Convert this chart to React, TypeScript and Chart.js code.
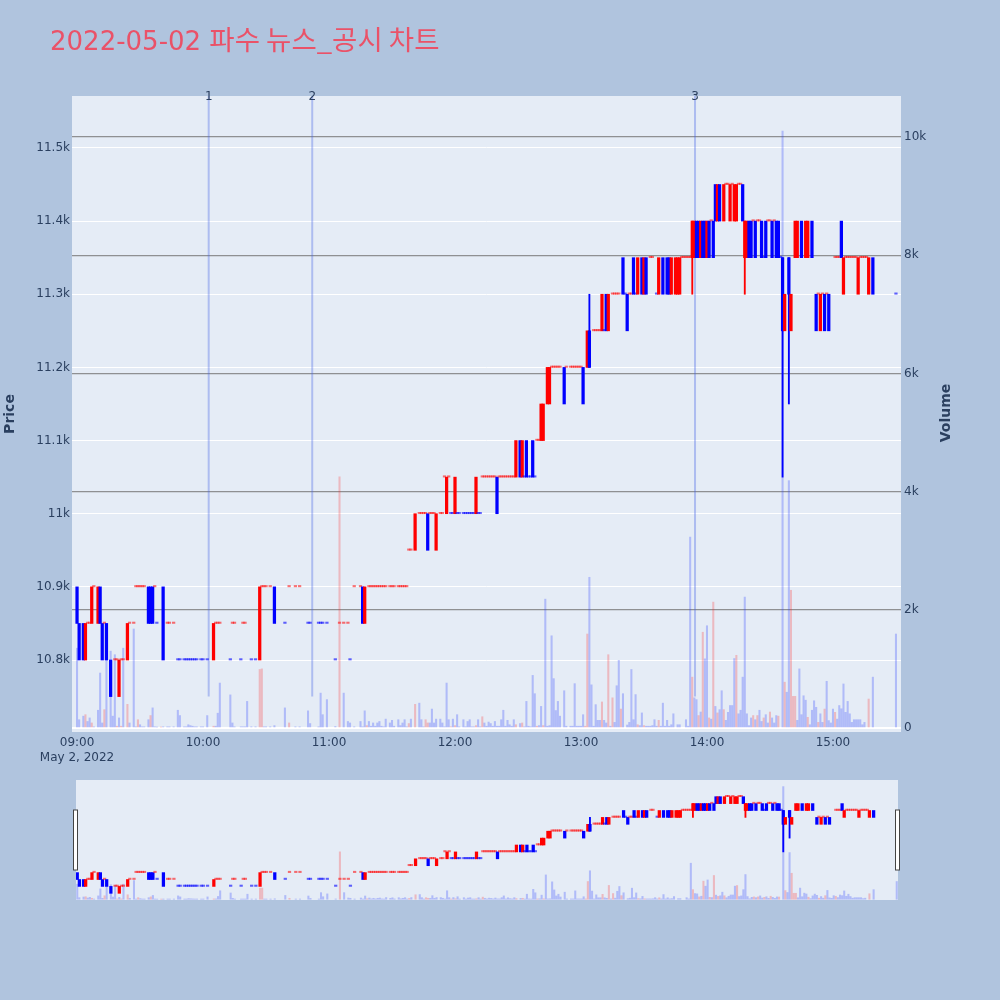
import React, { useEffect, useRef } from "react";
import { Chart, registerables } from "chart.js";

Chart.register(...registerables);

const titleDate = "2022-05-02";
const titleText = "파수 뉴스_공시 차트";
const dateLabel = "May 2, 2022";
const hourTicks = [0, 60, 120, 180, 240, 300, 360];
const hourLabels = ["09:00", "10:00", "11:00", "12:00", "13:00", "14:00", "15:00"];
const priceTicks = [10800, 10900, 11000, 11100, 11200, 11300, 11400, 11500];
const volumeTicks = [0, 2000, 4000, 6000, 8000, 10000];

// news markers (minutes after 09:00)
const newsMinutes = [62.7, 112, 294.3];
const newsLabels = ["1", "2", "3"];
const newsLineFloor = 10750;

// minutes where price moved inside the minute
const moveMinute = [
  0, 1, 3, 4, 7, 10, 11, 12, 14, 16,
  20, 24, 34, 35, 36, 41, 65, 87, 94, 136,
  137, 161, 167, 171, 176, 180, 190, 200, 209, 211,
  212, 214, 217, 221, 222, 224, 225, 232, 241, 243,
  244, 250, 252, 253, 260, 262, 265, 267, 269, 270,
  271, 277, 279, 281, 282, 283, 285, 286, 287, 293,
  294, 295, 296, 297, 298, 299, 300, 301, 303, 304,
  305, 306, 308, 311, 313, 314, 317, 318, 319, 320,
  321, 323, 326, 328, 331, 333, 334, 336, 337, 339,
  340, 342, 343, 345, 347, 348, 350, 352, 354, 356,
  358, 364, 365, 372, 377, 379,
];
const moveOpen = [
  10900, 10850, 10850, 10800, 10850, 10850, 10900, 10850, 10850, 10800,
  10750, 10800, 10900, 10900, 10900, 10900, 10800, 10800, 10900, 10900,
  10850, 10950, 11000, 10950, 11000, 11000, 11000, 11050, 11050, 11100,
  11050, 11100, 11100, 11100, 11100, 11150, 11150, 11200, 11200, 11200,
  11250, 11250, 11300, 11250, 11350, 11300, 11350, 11300, 11350, 11300,
  11350, 11300, 11350, 11350, 11350, 11300, 11300, 11300, 11300, 11350,
  11350, 11400, 11400, 11350, 11400, 11400, 11350, 11400, 11400, 11450,
  11400, 11450, 11400, 11400, 11400, 11400, 11450, 11350, 11350, 11400,
  11400, 11400, 11400, 11400, 11400, 11400, 11400, 11350, 11250, 11350,
  11250, 11350, 11350, 11400, 11350, 11350, 11400, 11300, 11250, 11300,
  11300, 11400, 11300, 11300, 11300, 11350,
];
const moveClose = [
  10850, 10800, 10800, 10850, 10900, 10900, 10850, 10800, 10800, 10750,
  10800, 10850, 10850, 10850, 10850, 10800, 10850, 10900, 10850, 10850,
  10900, 11000, 10950, 11000, 11050, 11050, 11050, 11000, 11100, 11050,
  11100, 11050, 11050, 11150, 11150, 11200, 11200, 11150, 11150, 11250,
  11200, 11300, 11250, 11300, 11300, 11250, 11300, 11350, 11300, 11350,
  11300, 11350, 11300, 11300, 11300, 11350, 11350, 11350, 11350, 11400,
  11400, 11350, 11350, 11400, 11350, 11350, 11400, 11350, 11350, 11400,
  11450, 11400, 11450, 11450, 11450, 11450, 11400, 11400, 11400, 11350,
  11350, 11350, 11350, 11350, 11350, 11350, 11350, 11250, 11300, 11300,
  11300, 11400, 11400, 11350, 11400, 11400, 11350, 11250, 11300, 11250,
  11250, 11350, 11350, 11350, 11350, 11300,
];

// minutes that traded at a single price
const flatPrices = [10800, 10850, 10900, 10950, 11000, 11050, 11100, 11200, 11250, 11300, 11350, 11400, 11450];
const flatMinutes = [
  [18, 19, 21, 22, 48, 49, 51, 52, 53, 54, 55, 56, 57, 59, 60, 62, 73, 78, 83, 85, 123, 130],
  [5, 6, 13, 25, 27, 38, 43, 44, 46, 66, 67, 68, 74, 75, 79, 80, 99, 110, 111, 115, 116, 117, 119, 125, 127, 129],
  [8, 28, 29, 30, 31, 32, 37, 88, 89, 90, 92, 101, 104, 106, 132, 135, 139, 140, 141, 142, 143, 144, 145, 146, 147, 149, 150, 151, 153, 154, 155, 156, 157],
  [158, 159],
  [163, 164, 165, 166, 168, 169, 170, 173, 174, 178, 179, 181, 182, 184, 185, 186, 187, 188, 189, 191, 192],
  [175, 177, 193, 194, 195, 196, 197, 198, 199, 201, 202, 203, 204, 205, 206, 207, 208, 213, 215, 216, 218],
  [219, 220],
  [226, 227, 228, 229, 230, 233, 235, 236, 237, 238, 239, 240],
  [246, 247, 248, 249, 251],
  [255, 256, 257, 258, 261, 263, 264, 266, 276, 353, 355, 357, 390],
  [273, 274, 288, 289, 290, 291, 292, 327, 335, 361, 362, 363, 366, 367, 368, 369, 370, 371, 373, 374, 375, 376],
  [302, 322, 324, 325, 329, 330, 332],
  [309, 310, 312, 315, 316],
];

// wicks beyond the body
const wickMinute = [244, 293, 318, 336, 339];
const wickHigh = [11300, 11400, 11400, 11350, 11350];
const wickLow = [11200, 11300, 11300, 11050, 11150];

// volume per minute, 09:00 .. 15:30
const minuteVolume = [
  1350, 140, 0, 200, 225, 110, 170, 85, 20, 0,
  300, 930, 85, 310, 1240, 0, 1300, 200, 1240, 30,
  170, 30, 1350, 0, 400, 85, 0, 1675, 20, 140,
  55, 20, 20, 0, 140, 210, 340, 20, 15, 0,
  15, 20, 0, 20, 20, 0, 20, 0, 300, 210,
  0, 20, 20, 55, 40, 30, 20, 20, 0, 20,
  20, 0, 210, 0, 0, 30, 30, 250, 760, 0,
  0, 0, 0, 560, 85, 20, 0, 0, 20, 20,
  20, 450, 0, 20, 0, 20, 0, 990, 1000, 20,
  20, 0, 20, 0, 40, 0, 0, 0, 0, 340,
  0, 85, 0, 0, 20, 0, 20, 0, 0, 0,
  290, 75, 0, 0, 0, 20, 590, 225, 0, 480,
  0, 0, 0, 25, 0, 4250, 0, 590, 0, 110,
  85, 0, 20, 0, 0, 110, 20, 290, 40, 110,
  30, 85, 30, 85, 110, 30, 20, 150, 0, 85,
  130, 30, 0, 140, 40, 85, 140, 20, 75, 150,
  0, 400, 0, 420, 140, 20, 140, 85, 85, 320,
  85, 150, 0, 150, 85, 20, 760, 140, 20, 150,
  40, 225, 20, 0, 140, 20, 110, 140, 20, 20,
  40, 140, 20, 190, 85, 30, 100, 75, 30, 110,
  30, 30, 140, 300, 30, 130, 55, 30, 140, 55,
  0, 75, 85, 20, 450, 30, 20, 890, 580, 30,
  40, 365, 40, 2180, 30, 40, 1560, 835, 295, 450,
  200, 0, 630, 30, 0, 30, 30, 750, 30, 30,
  30, 225, 30, 1590, 2550, 730, 30, 395, 130, 130,
  440, 130, 85, 1240, 30, 510, 95, 715, 1145, 320,
  580, 0, 50, 95, 990, 140, 565, 55, 40, 255,
  40, 30, 30, 30, 40, 140, 30, 130, 30, 420,
  30, 130, 30, 55, 240, 0, 55, 55, 0, 0,
  140, 30, 3230, 860, 510, 480, 210, 270, 1620, 1170,
  1730, 170, 150, 2130, 365, 255, 310, 630, 310, 130,
  265, 380, 380, 1175, 1230, 240, 300, 860, 2215, 240,
  40, 170, 210, 140, 210, 300, 110, 170, 225, 85,
  270, 170, 85, 210, 200, 0, 10100, 775, 605, 4185,
  2330, 535, 535, 130, 1000, 225, 545, 470, 180, 55,
  300, 460, 350, 95, 240, 95, 320, 790, 125, 85,
  320, 265, 150, 380, 325, 745, 265, 450, 240, 95,
  140, 140, 140, 140, 55, 95, 0, 490, 0, 860,
  0, 0, 0, 0, 0, 0, 0, 0, 0, 0,
  1590,
];

// minutes whose volume bar is red (rising)
const volumeUpMinutes = [
  4, 7, 13, 19, 21, 24, 29, 35, 40, 65, 87, 88, 101, 125, 138, 158, 161, 166, 167,
  178, 180, 190, 193, 209, 212, 219, 222, 242, 243, 250, 253, 255, 259, 267, 270,
  277, 293, 296, 298, 301, 303, 305, 308, 314, 322, 324, 327, 330, 334, 337, 340,
  341, 342, 348, 353, 356, 361, 377,
];

const UP = "#ff0000";
const DOWN = "#0000ff";
const FLAT_UP = "rgba(255,0,0,0.55)";
const FLAT_DOWN = "rgba(0,0,255,0.6)";
const VOL_UP = "rgba(255,40,40,0.26)";
const VOL_DOWN = "rgba(40,60,255,0.28)";
const TICK = "#2a3f5f";
const FONT = '"DejaVu Sans", Verdana, sans-serif';
const PLOT_BG = "#e5ecf6";

interface Candle {
  m: number;
  o: number;
  c: number;
  h: number;
  l: number;
  up: boolean;
}

function buildCandles(): Candle[] {
  const rows: { m: number; o: number; c: number }[] = [];
  moveMinute.forEach((m, i) => rows.push({ m, o: moveOpen[i], c: moveClose[i] }));
  flatPrices.forEach((p, k) => flatMinutes[k].forEach((m) => rows.push({ m, o: p, c: p })));
  rows.sort((a, b) => a.m - b.m);

  // same direction rule as plotly: flat minutes compare with previous close
  let prev: number | null = null;
  let inc = true;
  return rows.map((r) => {
    if (r.c === r.o) {
      if (prev !== null && r.c !== prev) inc = r.c > prev;
    } else {
      inc = r.c > r.o;
    }
    prev = r.c;
    const w = wickMinute.indexOf(r.m);
    return {
      ...r,
      h: w >= 0 ? wickHigh[w] : Math.max(r.o, r.c),
      l: w >= 0 ? wickLow[w] : Math.min(r.o, r.c),
      up: inc,
    };
  });
}

function makeDatasets(candles: Candle[]): any[] {
  const wicks = candles.filter((k) => wickMinute.includes(k.m));
  const volPoints: { x: number; y: number }[] = [];
  minuteVolume.forEach((v, m) => {
    if (v > 0) volPoints.push({ x: m, y: v });
  });

  return [
    {
      label: "body",
      data: candles.map((k) => ({ x: k.m, y: [k.o, k.c] })),
      backgroundColor: candles.map((k) =>
        k.o === k.c ? (k.up ? FLAT_UP : FLAT_DOWN) : k.up ? UP : DOWN
      ),
      borderWidth: 0,
      barThickness: 2.6,
      minBarLength: 1.4,
      grouped: false,
      yAxisID: "y",
    },
    {
      label: "wick",
      data: wicks.map((k) => ({ x: k.m, y: [k.l, k.h] })),
      backgroundColor: wicks.map((k) => (k.up ? UP : DOWN)),
      borderWidth: 0,
      barThickness: 1.2,
      grouped: false,
      yAxisID: "y",
    },
    {
      label: "volume",
      data: volPoints,
      backgroundColor: volPoints.map((p) => (volumeUpMinutes.includes(p.x) ? VOL_UP : VOL_DOWN)),
      borderWidth: 0,
      barThickness: 1.4,
      grouped: false,
      yAxisID: "y2",
    },
  ];
}

const plotBackground = {
  id: "plotBackground",
  beforeDraw(chart: any) {
    const { ctx, chartArea } = chart;
    ctx.save();
    ctx.fillStyle = PLOT_BG;
    ctx.fillRect(chartArea.left, chartArea.top, chartArea.right - chartArea.left, chartArea.bottom - chartArea.top);
    ctx.restore();
  },
};

const newsMarkers = {
  id: "newsMarkers",
  beforeDatasetsDraw(chart: any) {
    const { ctx, chartArea, scales } = chart;
    const bottom = scales.y.getPixelForValue(newsLineFloor);
    ctx.save();
    ctx.strokeStyle = "rgba(70,100,230,0.35)";
    ctx.lineWidth = 2;
    newsMinutes.forEach((m) => {
      const x = scales.x.getPixelForValue(m);
      ctx.beginPath();
      ctx.moveTo(x, chartArea.top);
      ctx.lineTo(x, bottom);
      ctx.stroke();
    });
    ctx.restore();
  },
  afterDraw(chart: any) {
    const { ctx, chartArea, scales } = chart;
    ctx.save();
    ctx.fillStyle = TICK;
    ctx.font = `12px ${FONT}`;
    ctx.textAlign = "center";
    ctx.textBaseline = "middle";
    newsMinutes.forEach((m, i) => {
      ctx.fillText(newsLabels[i], scales.x.getPixelForValue(m), chartArea.top + 1);
    });
    ctx.restore();
  },
};

const titles = {
  id: "titles",
  afterDraw(chart: any) {
    const { ctx } = chart;
    ctx.save();
    ctx.fillStyle = "rgb(234,82,104)";
    ctx.textAlign = "left";
    ctx.textBaseline = "alphabetic";
    ctx.font = `26px ${FONT}`;
    const head = `${titleDate} `;
    ctx.fillText(head, 50, 50);
    const w = ctx.measureText(head).width;
    ctx.font = `27.5px "Noto Sans CJK KR", ${FONT}`;
    ctx.fillText(titleText, 50 + w, 50);

    ctx.fillStyle = TICK;
    ctx.font = `bold 14px ${FONT}`;
    ctx.textAlign = "center";
    ctx.textBaseline = "middle";
    [
      { text: "Price", x: 10, y: 414 },
      { text: "Volume", x: 946, y: 413 },
    ].forEach((t) => {
      ctx.save();
      ctx.translate(t.x, t.y);
      ctx.rotate(-Math.PI / 2);
      ctx.fillText(t.text, 0, 0);
      ctx.restore();
    });
    ctx.restore();
  },
};

const sliderHandles = {
  id: "sliderHandles",
  afterDraw(chart: any) {
    const { ctx, chartArea } = chart;
    const top = chartArea.top + 30;
    const h = 60;
    ctx.save();
    ctx.fillStyle = "#ffffff";
    ctx.strokeStyle = "#444444";
    ctx.lineWidth = 1;
    [chartArea.left - 2, chartArea.right - 2].forEach((x) => {
      ctx.fillRect(x - 0.5, top, 4, h);
      ctx.strokeRect(x - 0.5, top, 4, h);
    });
    ctx.restore();
  },
};

const tickFont = { family: FONT, size: 12, lineHeight: 1.25 };

const App: React.FC = () => {
  const mainRef = useRef<HTMLCanvasElement>(null);
  const sliderRef = useRef<HTMLCanvasElement>(null);

  useEffect(() => {
    const candles = buildCandles();

    const main = new Chart(mainRef.current!, {
      type: "bar",
      data: { datasets: makeDatasets(candles) },
      options: {
        animation: false,
        responsive: false,
        events: [],
        layout: { padding: { top: 96, left: 0, right: 0, bottom: 0 } },
        plugins: { legend: { display: false }, tooltip: { enabled: false } },
        scales: {
          x: {
            type: "linear",
            min: -2.4,
            max: 392.4,
            offset: false,
            grid: { display: false, drawTicks: false, offset: false },
            border: { display: false },
            afterBuildTicks: (s: any) => {
              s.ticks = hourTicks.map((v) => ({ value: v }));
            },
            afterFit: (s: any) => {
              s.height = 38;
            },
            ticks: {
              autoSkip: false,
              maxRotation: 0,
              padding: 3,
              color: TICK,
              font: tickFont,
              callback: (v: any) => {
                const i = hourTicks.indexOf(Number(v));
                return i === 0 ? [hourLabels[0], dateLabel] : hourLabels[i];
              },
            },
          },
          y: {
            type: "linear",
            position: "left",
            min: 10701.6,
            max: 11571,
            grid: { color: "#ffffff", lineWidth: 1, drawTicks: false },
            border: { display: false },
            afterBuildTicks: (s: any) => {
              s.ticks = priceTicks.map((v) => ({ value: v }));
            },
            afterFit: (s: any) => {
              s.width = 72;
            },
            ticks: {
              padding: 2,
              color: TICK,
              font: tickFont,
              callback: (v: any) => `${Number(v) / 1000}k`,
            },
          },
          y2: {
            type: "linear",
            position: "right",
            min: -68,
            max: 10694,
            grid: {
              drawTicks: false,
              color: (c: any) => (c.tick && c.tick.value === 0 ? "#ffffff" : "rgba(128,128,128,0.85)"),
              lineWidth: (c: any) => (c.tick && c.tick.value === 0 ? 2 : 1.2),
            },
            border: { display: false },
            afterBuildTicks: (s: any) => {
              s.ticks = volumeTicks.map((v) => ({ value: v }));
            },
            afterFit: (s: any) => {
              s.width = 99;
            },
            ticks: {
              padding: 3,
              color: TICK,
              font: tickFont,
              callback: (v: any) => (Number(v) === 0 ? "0" : `${Number(v) / 1000}k`),
            },
          },
        },
      } as any,
      plugins: [plotBackground, newsMarkers, titles],
    });

    const slider = new Chart(sliderRef.current!, {
      type: "bar",
      data: { datasets: makeDatasets(candles) },
      options: {
        animation: false,
        responsive: false,
        events: [],
        layout: { padding: { top: 10, left: 76, right: 102, bottom: 100 } },
        plugins: { legend: { display: false }, tooltip: { enabled: false } },
        scales: {
          x: { type: "linear", min: -0.6, max: 390.6, offset: false, display: false },
          y: { type: "linear", min: 10701.6, max: 11571, display: false },
          y2: { type: "linear", min: -68, max: 10694, display: false },
        },
      } as any,
      plugins: [plotBackground, sliderHandles],
    });

    return () => {
      main.destroy();
      slider.destroy();
    };
  }, []);

  return (
    <div
      style={{
        position: "absolute",
        left: 0,
        top: 0,
        width: 1000,
        height: 1000,
        background: "#b0c4de",
      }}
    >
      <canvas ref={mainRef} width={1000} height={770} style={{ position: "absolute", left: 0, top: 0 }} />
      <canvas ref={sliderRef} width={1000} height={230} style={{ position: "absolute", left: 0, top: 770 }} />
    </div>
  );
};

export default App;
